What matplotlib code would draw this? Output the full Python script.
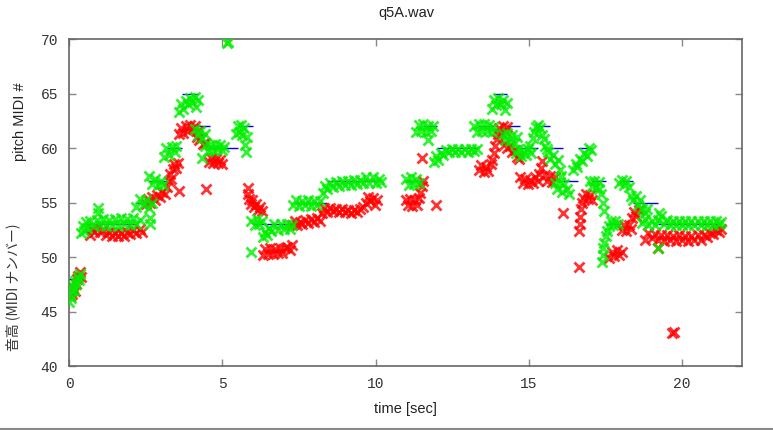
import matplotlib
matplotlib.use('Agg')
import matplotlib.pyplot as plt
from matplotlib.lines import Line2D
import numpy as np

# data
# green estimate (time [sec], MIDI #)
green_pts = [
    # 46 -> 48
    (0.00, 45.9), (0.03, 46.6), (0.06, 46.2), (0.10, 46.9), (0.13, 47.3), (0.17, 47.0),
    (0.20, 47.8), (0.24, 47.5), (0.28, 48.2), (0.32, 47.9), (0.36, 48.4),
    # 53
    (0.40, 52.2), (0.45, 52.8), (0.50, 52.4), (0.55, 53.2), (0.60, 52.7), (0.70, 53.3),
    (0.80, 52.8), (0.90, 53.4), (0.93, 54.5), (0.95, 54.0), (1.00, 52.9), (1.10, 53.5),
    (1.20, 52.8), (1.30, 53.4), (1.40, 52.9), (1.50, 53.5), (1.60, 52.8), (1.70, 53.6),
    (1.80, 53.0), (1.90, 53.5), (2.00, 52.9), (2.10, 53.6), (2.20, 53.0), (2.30, 53.4),
    # 55
    (2.20, 54.6), (2.30, 55.3), (2.40, 54.8), (2.50, 55.2), (2.60, 54.5), (2.63, 53.6),
    (2.65, 53.0), (2.70, 55.0),
    # 57
    (2.60, 57.4), (2.70, 56.7), (2.80, 57.2), (2.90, 56.6), (3.00, 57.0), (3.08, 56.6),
    # 60
    (3.10, 59.2), (3.15, 60.0), (3.25, 59.4), (3.35, 60.1), (3.45, 59.6), (3.50, 60.2),
    # 64
    (3.60, 63.3), (3.65, 64.0), (3.72, 63.6), (3.80, 64.3), (3.88, 64.0), (3.95, 64.6),
    (4.02, 64.2), (4.10, 64.7), (4.15, 63.8), (4.20, 64.4),
    # 61.5
    (4.12, 61.7), (4.20, 61.2), (4.28, 61.6), (4.35, 60.9), (4.35, 59.1), (4.42, 61.3),
    # 60
    (4.45, 60.2), (4.52, 59.7), (4.60, 60.3), (4.68, 59.8), (4.76, 60.4), (4.84, 59.9),
    (4.92, 60.3), (5.00, 59.8), (5.05, 60.1),
    (5.15, 69.6), (5.19, 69.7),
    # 62
    (5.45, 61.3), (5.50, 62.0), (5.55, 61.5), (5.60, 62.1), (5.65, 61.2), (5.70, 61.8),
    (5.75, 60.3), (5.78, 59.6), (5.82, 61.0),
    # 53
    (5.92, 50.5), (5.95, 53.3), (6.05, 52.9), (6.12, 53.5), (6.20, 53.0), (6.28, 53.3),
    (6.32, 51.8), (6.38, 52.3), (6.45, 52.0), (6.52, 52.7), (6.60, 52.4), (6.70, 53.0),
    (6.80, 52.5), (6.90, 53.0), (7.00, 52.6), (7.10, 53.0), (7.20, 52.6), (7.28, 52.9),
    # 55
    (7.30, 54.8), (7.40, 55.2), (7.50, 54.7), (7.60, 55.1), (7.70, 54.8), (7.80, 55.2),
    (7.90, 54.7), (8.00, 55.1), (8.10, 54.8), (8.20, 55.1),
    # 57
    (8.28, 55.9), (8.35, 56.5), (8.42, 56.2), (8.50, 56.8), (8.60, 56.4), (8.70, 56.9),
    (8.80, 56.5), (8.90, 57.0), (9.00, 56.6), (9.10, 57.0), (9.20, 56.6), (9.30, 57.1),
    (9.40, 56.7), (9.50, 57.1), (9.60, 56.8), (9.70, 57.3), (9.80, 56.8), (9.90, 57.3),
    (10.00, 56.8), (10.10, 57.2), (10.18, 56.9),
    # second phrase
    (11.00, 57.2), (11.08, 56.6), (11.16, 57.3), (11.24, 56.7), (11.32, 57.2), (11.40, 56.8),
    (11.32, 61.5), (11.40, 62.1), (11.48, 61.6), (11.56, 62.2), (11.64, 61.5), (11.70, 60.7),
    (11.72, 62.0), (11.80, 61.6), (11.88, 62.0),
    (11.92, 58.7), (11.98, 59.3), (12.05, 58.9), (12.12, 59.5), (12.20, 59.4), (12.30, 59.8),
    (12.40, 59.6), (12.50, 59.9), (12.60, 59.6), (12.70, 59.9), (12.80, 59.6), (12.90, 59.9),
    (13.00, 59.6), (13.10, 59.9), (13.20, 59.7), (13.30, 59.9),
    (13.22, 62.0), (13.30, 61.5), (13.38, 62.2), (13.46, 61.6), (13.54, 62.2), (13.62, 61.6),
    (13.70, 62.1), (13.78, 61.5), (13.84, 61.9),
    (13.78, 63.6), (13.85, 64.4), (13.92, 63.9), (14.00, 64.6), (14.08, 64.0), (14.15, 64.4),
    (14.22, 63.5), (14.28, 64.1),
    (14.15, 61.3), (14.22, 60.7), (14.30, 61.4), (14.38, 60.6), (14.46, 61.2), (14.54, 60.5),
    (14.60, 61.0),
    (14.58, 59.5), (14.66, 59.9), (14.74, 59.3), (14.82, 59.8), (14.90, 59.4), (14.98, 59.9),
    (15.06, 59.5),
    (15.05, 60.2), (15.12, 60.9), (15.18, 61.5), (15.24, 61.9), (15.30, 62.1), (15.36, 61.8),
    (15.42, 61.2), (15.48, 60.8), (15.54, 60.2), (15.60, 59.9),
    (15.62, 59.6), (15.70, 59.0), (15.78, 59.4), (15.86, 58.5), (15.94, 58.9), (16.00, 58.0),
    (15.85, 56.8), (15.92, 56.2), (16.00, 56.9), (16.05, 57.4), (16.08, 56.0), (16.16, 56.7),
    (16.24, 56.2), (16.30, 55.8),
    (16.45, 58.0), (16.52, 58.5), (16.58, 58.3), (16.65, 59.0), (16.72, 58.8), (16.80, 59.5),
    (16.88, 59.3), (16.95, 60.0), (17.02, 59.8),
    (16.98, 57.0), (17.05, 56.5), (17.12, 57.0), (17.20, 56.4), (17.28, 56.9), (17.30, 56.2),
    (17.35, 55.8), (17.40, 55.0), (17.45, 54.2),
    (17.38, 49.5), (17.40, 50.2), (17.43, 50.8), (17.46, 51.3), (17.50, 51.9), (17.55, 52.4),
    (17.60, 52.8), (17.68, 53.3), (17.75, 52.9), (17.82, 53.3), (17.90, 53.0),
    (17.95, 56.8), (18.02, 57.1), (18.10, 56.6), (18.18, 57.0), (18.25, 56.4), (18.32, 55.6),
    (18.40, 55.2), (18.48, 55.6), (18.55, 54.8), (18.62, 55.2), (18.70, 54.4), (18.78, 54.0),
    (18.85, 54.4),
    (18.70, 53.1), (18.80, 53.5), (18.90, 52.9), (19.00, 53.3), (19.10, 52.9), (19.20, 53.4),
    (19.25, 54.0), (19.30, 53.8), (19.40, 53.0), (19.50, 53.4), (19.60, 52.9), (19.70, 53.3),
    (19.80, 52.9), (19.90, 53.3), (20.00, 52.9), (20.10, 53.3), (20.20, 52.9), (20.30, 53.3),
    (20.40, 52.9), (20.50, 53.3), (20.60, 52.9), (20.70, 53.3), (20.80, 52.9), (20.90, 53.3),
    (21.00, 52.9), (21.10, 53.3), (21.20, 53.0), (21.28, 53.2),
    (19.20, 50.8),
]

# red estimate (time [sec], MIDI #)
red_pts = [
    (0.02, 46.4), (0.06, 46.9), (0.10, 46.6), (0.14, 47.2), (0.18, 46.9), (0.22, 47.5),
    (0.26, 48.0), (0.30, 48.3), (0.35, 48.6), (0.38, 48.2),
    (0.68, 52.0), (0.75, 52.6), (0.82, 52.3), (0.90, 52.7), (1.00, 52.3), (1.10, 52.5),
    (1.20, 52.0), (1.30, 52.3), (1.40, 51.9), (1.50, 52.2), (1.60, 51.9), (1.70, 52.2),
    (1.80, 51.9), (1.90, 52.3), (2.00, 52.1), (2.10, 52.5), (2.20, 52.2), (2.30, 52.6),
    (2.38, 52.3),
    (2.50, 54.9), (2.58, 55.3), (2.65, 55.0), (2.72, 55.5), (2.80, 55.2), (2.88, 55.7),
    (2.96, 55.5), (3.04, 56.0), (3.12, 55.8), (3.20, 56.4), (3.26, 57.0), (3.30, 57.6),
    (3.34, 57.2), (3.38, 58.1), (3.44, 58.5), (3.50, 58.2), (3.55, 58.6),
    (3.60, 56.1),
    (3.58, 61.3), (3.65, 61.8), (3.72, 61.4), (3.80, 62.0), (3.88, 61.6), (3.96, 62.1),
    (4.04, 61.7), (4.12, 62.0), (4.20, 61.6),
    (4.18, 61.0), (4.25, 60.7), (4.32, 60.9), (4.38, 60.4), (4.45, 60.5),
    (4.48, 56.2),
    (4.55, 58.7), (4.62, 59.1), (4.70, 58.6), (4.78, 59.0), (4.86, 58.6), (4.94, 58.9),
    (5.00, 58.5),
    (5.83, 56.3), (5.85, 55.8), (5.88, 55.3), (5.92, 54.9), (5.98, 55.2), (6.04, 54.6),
    (6.10, 54.9), (6.16, 54.3), (6.22, 54.6), (6.30, 54.2),
    (6.33, 50.2), (6.40, 50.7), (6.48, 50.3), (6.56, 50.8), (6.64, 50.3), (6.72, 50.7),
    (6.80, 50.4), (6.88, 50.8), (6.96, 50.4), (7.04, 50.8), (7.12, 50.9), (7.20, 50.6),
    (7.26, 51.1),
    (7.28, 52.9), (7.36, 53.3), (7.44, 52.9), (7.52, 53.2), (7.60, 53.0), (7.70, 53.4),
    (7.80, 53.1), (7.90, 53.5), (8.00, 53.2), (8.10, 53.6), (8.20, 53.3),
    (8.25, 54.0), (8.32, 54.5), (8.40, 54.1), (8.50, 54.5), (8.60, 54.2), (8.70, 54.4),
    (8.80, 54.1), (8.90, 54.4), (9.00, 54.1), (9.10, 54.3), (9.20, 54.0), (9.30, 54.3),
    (9.40, 54.1), (9.50, 54.4), (9.60, 54.6), (9.68, 55.0), (9.75, 55.5), (9.82, 55.1),
    (9.90, 55.4), (9.98, 54.8), (10.04, 55.2),
    (10.98, 55.2), (11.05, 54.8), (11.12, 55.3), (11.20, 54.7), (11.28, 55.2), (11.35, 54.8),
    (11.42, 55.4), (11.46, 55.9), (11.50, 56.5), (11.53, 57.0),
    (11.52, 59.1), (11.98, 54.8),
    (13.38, 58.0), (13.45, 58.4), (13.52, 57.8), (13.60, 58.3), (13.68, 57.9), (13.75, 58.5),
    (13.80, 58.9), (13.85, 59.5), (13.90, 60.2), (13.95, 60.8), (14.00, 61.3),
    (14.02, 61.8), (14.08, 61.4), (14.15, 62.0), (14.22, 61.6), (14.28, 61.9),
    (14.22, 60.4), (14.30, 60.0), (14.38, 60.2), (14.46, 59.6), (14.54, 59.8), (14.62, 59.2),
    (14.68, 59.0),
    (14.72, 57.3), (14.80, 56.8), (14.88, 57.2), (14.96, 56.7), (15.04, 57.1), (15.12, 56.8),
    (15.20, 57.3), (15.28, 57.0), (15.32, 57.6), (15.38, 58.2), (15.44, 58.8),
    (15.52, 57.5), (15.60, 57.0), (15.68, 57.4), (15.76, 56.9), (15.84, 57.3),
    (16.10, 54.0),
    (16.62, 49.1),
    (16.64, 52.4), (16.66, 53.0), (16.68, 53.7), (16.70, 54.4), (16.72, 55.0), (16.78, 55.4),
    (16.85, 55.8), (16.92, 55.3), (17.00, 55.7), (17.06, 55.2),
    (17.62, 49.9), (17.70, 50.5), (17.78, 50.1), (17.86, 50.6), (17.94, 50.2), (18.02, 50.5),
    (18.02, 52.5), (18.10, 52.9), (18.18, 52.4), (18.26, 52.9), (18.34, 52.6),
    (18.35, 53.6), (18.42, 54.1), (18.50, 53.8), (18.58, 54.3),
    (18.80, 51.6), (18.90, 52.2), (19.00, 51.7), (19.10, 52.1), (19.20, 51.6), (19.30, 52.0),
    (19.40, 51.5), (19.50, 52.0), (19.60, 51.6), (19.70, 51.9), (19.80, 51.5), (19.90, 52.0),
    (20.00, 51.6), (20.10, 51.9), (20.20, 51.5), (20.30, 51.9), (20.40, 51.6), (20.50, 52.0),
    (20.60, 51.6), (20.70, 52.0), (20.80, 51.8), (20.90, 52.2), (21.00, 52.1), (21.10, 52.5),
    (21.20, 52.3), (21.28, 52.6),
    (19.20, 50.8), (19.68, 43.0), (19.72, 43.1),
]

# target notes
note_start = [0.00, 0.42, 2.20, 2.62, 3.20, 3.70, 4.20, 4.60, 5.50, 6.00, 7.40, 8.40,
              11.00, 11.55, 12.00, 13.35, 13.85, 14.30, 14.70, 15.30, 15.70, 16.10,
              16.60, 17.05, 17.50, 18.00, 18.40, 19.20]
note_end = [0.42, 2.20, 2.62, 3.20, 3.70, 4.20, 4.60, 5.50, 6.00, 7.40, 8.40, 10.00,
            11.55, 12.00, 13.35, 13.85, 14.30, 14.70, 15.30, 15.70, 16.10, 16.60,
            17.05, 17.50, 18.00, 18.40, 19.20, 21.20]
note_pitch = [48, 53, 55, 57, 60, 65, 62, 60, 62, 53, 55, 57,
              57, 62, 60, 62, 65, 62, 60, 62, 60, 57,
              60, 57, 53, 57, 55, 53]

xticks = [0, 5, 10, 15, 20]
yticks = [40, 45, 50, 55, 60, 65, 70]

# figure
fig = plt.figure(figsize=(7.73, 4.30), dpi=100)
ax = fig.add_axes([0.0893, 0.1488, 0.8706, 0.7605])

ax.hlines(note_pitch, note_start, note_end, color='#0000ee', lw=1.0, zorder=1)

gt, gp = zip(*green_pts)
rt, rp = zip(*red_pts)
ax.plot(rt, rp, ls='none', marker='x', ms=7.5, mew=2.0, color='#ff0000', alpha=0.8, zorder=2)
ax.plot(gt, gp, ls='none', marker='x', ms=7.5, mew=2.0, color='#00ee00', alpha=0.8, zorder=3)

ax.set_xlim(0, 21.95)
ax.set_ylim(40, 70)
ax.set_xticks(xticks)
ax.set_yticks(yticks)

for s in ax.spines.values():
    s.set_color('#666666')
    s.set_linewidth(1.2)
ax.tick_params(direction='in', length=5, width=1, color='#888888',
               top=True, right=True, labelsize=10.5, labelcolor='#333333', pad=8)
for lab in ax.get_xticklabels() + ax.get_yticklabels():
    lab.set_family('Liberation Mono')

# labels
fig.text(406 / 773, 1 - 13 / 430, 'q5A.wav', ha='center', va='center',
         family='Liberation Sans', fontsize=10.5, color='#222222')
fig.text(405 / 773, 1 - 409 / 430, 'time [sec]', ha='center', va='center',
         family='Liberation Sans', fontsize=10.5, color='#222222')
fig.text(20 / 773, 1 - 122 / 430, 'pitch MIDI #', ha='center', va='center', rotation=90,
         family='Liberation Sans', fontsize=10.5, color='#222222')
fig.text(13 / 773, 1 - 287 / 430, '音高 (MIDI ナンバー)', ha='center', va='center', rotation=90,
         family=['Noto Sans CJK JP', 'DejaVu Sans'], fontsize=10, color='#333333')

# rule at the bottom
fig.add_artist(Line2D([0, 1], [1 - 428.5 / 430] * 2, color='#888888', lw=1.5,
                      transform=fig.transFigure))

fig.savefig('out.png', dpi=100)
